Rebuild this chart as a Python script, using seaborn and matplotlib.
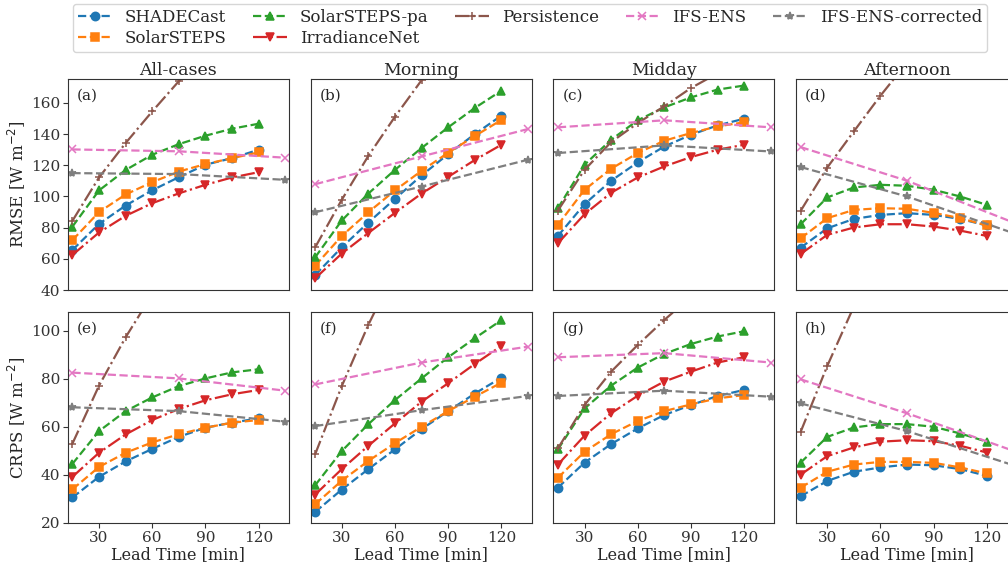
import numpy as np
import pandas as pd
import matplotlib
matplotlib.use("Agg")
import matplotlib.pyplot as plt
import seaborn as sns

lead = [15, 30, 45, 60, 75, 90, 105, 120]
lead_ifs = [15, 75, 135]

periods = ["All-cases", "Morning", "Midday", "Afternoon"]
panel_tags = ["(a)", "(b)", "(c)", "(d)", "(e)", "(f)", "(g)", "(h)"]

# RMSE [W m-2], one list per period
rmse_shadecast = [
    [65.7, 82.4, 94.2, 104.0, 112.4, 120.4, 124.6, 130.0],
    [49.6, 67.4, 83.3, 98.5, 113.5, 127.2, 140.0, 151.9],
    [74.7, 95.1, 110.1, 121.9, 132.1, 139.6, 145.6, 149.9],
    [67.2, 79.6, 85.6, 88.2, 89.3, 88.2, 85.6, 81.4],
]
rmse_solarsteps = [
    [72.0, 90.0, 101.3, 109.2, 116.0, 120.8, 124.6, 128.3],
    [55.6, 74.7, 89.9, 103.9, 116.5, 128.1, 138.8, 149.1],
    [81.8, 104.3, 117.8, 127.9, 135.8, 140.7, 145.0, 147.6],
    [73.2, 86.1, 91.4, 92.5, 92.1, 89.5, 86.1, 81.4],
]
rmse_solarsteps_pa = [
    [80.7, 103.9, 117.0, 126.8, 133.6, 139.0, 143.5, 146.7],
    [61.0, 84.6, 101.9, 117.1, 131.1, 144.4, 156.8, 167.9],
    [92.5, 120.4, 136.4, 148.9, 157.2, 163.6, 168.6, 171.2],
    [82.2, 99.4, 105.8, 107.5, 106.9, 104.3, 100.0, 94.6],
]
rmse_irradiancenet = [
    [62.5, 76.9, 87.6, 95.7, 102.0, 107.5, 112.2, 115.6],
    [47.5, 63.4, 76.6, 89.5, 101.9, 112.6, 123.4, 133.2],
    [70.0, 88.6, 102.4, 112.2, 119.3, 125.3, 130.0, 133.2],
    [63.1, 75.4, 80.1, 82.2, 82.2, 80.7, 78.1, 74.7],
]
rmse_persistence = [
    [84.4, 112.2, 134.3, 154.6, 174.0, 192.0, 208.0, 222.0],
    [67.4, 97.9, 126.1, 151.2, 174.6, 196.0, 215.0, 232.0],
    [91.0, 117.1, 134.9, 147.1, 157.9, 169.6, 179.0, 188.0],
    [90.8, 118.6, 141.8, 164.7, 186.0, 205.0, 222.0, 238.0],
]
rmse_ifs = [
    [130.2, 129.0, 124.9],
    [107.9, 125.7, 143.3],
    [144.4, 148.9, 144.4],
    [131.7, 110.1, 83.3],
]
rmse_ifs_corr = [
    [115.0, 114.4, 110.7],
    [89.9, 106.4, 123.6],
    [127.9, 132.8, 128.9],
    [118.9, 100.0, 76.5],
]

# CRPS [W m-2]
crps_shadecast = [
    [30.6, 39.2, 45.6, 50.8, 55.8, 59.6, 61.7, 63.5],
    [24.6, 33.9, 42.4, 50.6, 59.0, 66.5, 73.8, 80.4],
    [34.7, 45.1, 52.8, 59.3, 64.9, 69.0, 72.8, 75.3],
    [31.1, 37.5, 41.3, 43.1, 44.3, 44.0, 42.4, 39.6],
]
crps_solarsteps = [
    [34.0, 43.3, 49.2, 53.5, 56.9, 59.6, 61.7, 62.8],
    [27.8, 37.6, 45.8, 53.2, 60.0, 66.5, 72.5, 78.3],
    [38.8, 49.6, 56.9, 62.4, 66.5, 69.3, 71.8, 73.2],
    [34.7, 41.3, 44.3, 45.4, 45.4, 45.0, 43.1, 40.6],
]
crps_solarsteps_pa = [
    [44.6, 58.2, 66.5, 72.2, 76.9, 80.1, 82.6, 83.9],
    [35.7, 49.9, 61.1, 71.1, 80.1, 88.9, 96.8, 104.3],
    [50.6, 67.6, 77.1, 84.6, 90.3, 94.4, 97.5, 99.7],
    [45.1, 55.8, 59.7, 61.1, 61.1, 60.0, 57.2, 53.8],
]
crps_irradiancenet = [
    [39.2, 49.2, 56.8, 62.8, 67.4, 71.0, 73.5, 75.3],
    [31.8, 42.4, 52.1, 61.4, 70.4, 78.1, 86.1, 93.6],
    [44.3, 56.3, 65.6, 72.9, 78.8, 82.9, 86.7, 88.9],
    [40.1, 47.8, 51.4, 53.8, 54.4, 54.0, 52.1, 49.3],
]
crps_persistence = [
    [53.0, 77.1, 97.2, 115.0, 131.0, 145.0, 157.0, 168.0],
    [48.6, 76.9, 102.4, 125.0, 146.0, 165.0, 182.0, 198.0],
    [51.0, 69.0, 82.9, 94.0, 104.4, 114.0, 123.0, 131.0],
    [57.9, 85.3, 110.0, 132.0, 152.0, 170.0, 186.0, 200.0],
]
crps_ifs = [
    [82.5, 80.1, 75.0],
    [77.6, 86.7, 93.3],
    [88.9, 90.6, 86.7],
    [79.7, 65.6, 50.0],
]
crps_ifs_corr = [
    [68.1, 66.5, 62.1],
    [60.3, 66.9, 72.8],
    [72.8, 75.0, 72.5],
    [69.7, 58.2, 44.0],
]

# name, color, marker, linestyle
styles = [
    ("SHADECast", "tab:blue", "o", "--"),
    ("SolarSTEPS", "tab:orange", "s", "--"),
    ("SolarSTEPS-pa", "tab:green", "^", "--"),
    ("IrradianceNet", "tab:red", "v", "-."),
    ("Persistence", "tab:brown", "+", "-."),
    ("IFS-ENS", "tab:pink", "x", "--"),
    ("IFS-ENS-corrected", "tab:gray", "*", "--"),
]

rows = [
    [rmse_shadecast, rmse_solarsteps, rmse_solarsteps_pa, rmse_irradiancenet,
     rmse_persistence, rmse_ifs, rmse_ifs_corr],
    [crps_shadecast, crps_solarsteps, crps_solarsteps_pa, crps_irradiancenet,
     crps_persistence, crps_ifs, crps_ifs_corr],
]

sns.set_style("ticks")
plt.rcParams["font.family"] = ["DejaVu Serif"]
plt.rcParams["axes.edgecolor"] = "0.2"
plt.rcParams["xtick.color"] = "0.2"
plt.rcParams["ytick.color"] = "0.2"

fig, axes = plt.subplots(2, 4, figsize=(10.08, 5.64), dpi=100, sharex=True, sharey="row")
W, H = 1008, 564
fig.subplots_adjust(left=68 / W, right=1017 / W, top=1 - 79 / H, bottom=1 - 523 / H,
                    wspace=22 / 221, hspace=22 / 211)

for r in range(2):
    for c in range(4):
        ax = axes[r, c]
        series = rows[r]
        for (name, color, marker, ls), vals in zip(styles, series):
            y = vals[c]
            x = lead_ifs if len(y) == 3 else lead
            sns.lineplot(x=x, y=y, ax=ax, color=color, marker=marker, linestyle=ls,
                         linewidth=1.6, markersize=6, markeredgecolor=color,
                         markeredgewidth=1.1, label=name, legend=False)
        ax.text(0.04, 0.955, panel_tags[r * 4 + c], transform=ax.transAxes,
                ha="left", va="top", fontsize=11)
        ax.set_xlim(12.5, 137)
        ax.set_xticks([30, 60, 90, 120])
        ax.tick_params(labelsize=11, length=3.5, pad=2)
        if r == 0:
            ax.set_ylim(40, 175.4)
            ax.set_yticks(np.arange(40, 161, 20))
            ax.set_title(periods[c], fontsize=12.5, pad=3)
            ax.tick_params(bottom=False)
            ax.set_xlabel("")
        else:
            ax.set_ylim(20, 107.7)
            ax.set_yticks(np.arange(20, 101, 20))
            ax.set_xlabel("Lead Time [min]", fontsize=11.5, labelpad=1)
        if c > 0:
            ax.tick_params(left=False)
            ax.set_ylabel("")

axes[0, 0].set_ylabel("RMSE [W m$^{-2}$]", fontsize=12, labelpad=3)
axes[1, 0].set_ylabel("CRPS [W m$^{-2}$]", fontsize=12, labelpad=3)

handles, labels = axes[0, 0].get_legend_handles_labels()
fig.legend(handles, labels, loc="upper center", bbox_to_anchor=(530 / W, 1 - 4 / H),
           ncol=5, fontsize=12, frameon=True, handlelength=2.0, columnspacing=1.6,
           borderpad=0.3, labelspacing=0.25, borderaxespad=0.0, edgecolor="0.8")

fig.savefig("out.png", dpi=100)
